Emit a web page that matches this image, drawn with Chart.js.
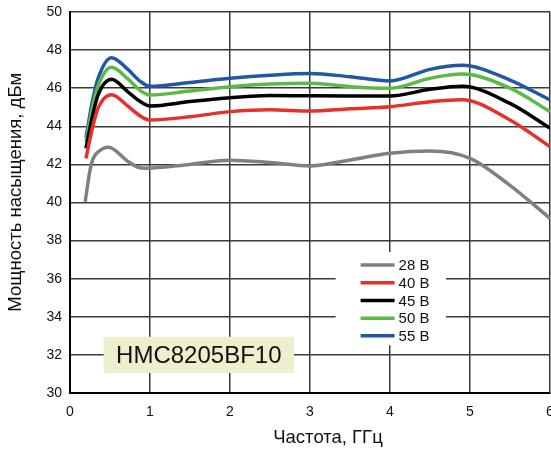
<!DOCTYPE html>
<html>
<head>
<meta charset="utf-8">
<script src="https://cdn.jsdelivr.net/npm/chart.js@4"></script>
<style>
  html, body { margin: 0; padding: 0; background: #fff; }
</style>
</head>
<body>
<canvas id="psatChart" width="551" height="449"></canvas>
<script>
// частоты, ГГц (общие для 40..55 В)
const freqs = [0.2, 0.27, 0.35, 0.52, 0.72, 0.88, 1.0, 1.5, 2.0, 2.5, 3.0, 3.5, 4.0, 4.5, 4.9, 5.5, 6.0];
const p40 = [42.32, 43.72, 44.94, 45.66, 45.07, 44.54, 44.33, 44.5, 44.77, 44.87, 44.8, 44.92, 45.03, 45.29, 45.4, 44.33, 42.93];
const p45 = [42.84, 44.33, 45.64, 46.47, 45.82, 45.3, 45.07, 45.3, 45.5, 45.62, 45.6, 45.59, 45.59, 45.94, 46.1, 45.2, 43.9];
const p50 = [43.2, 44.8, 46.1, 47.1, 46.5, 45.87, 45.64, 45.85, 46.08, 46.22, 46.26, 46.08, 46.0, 46.52, 46.74, 46.0, 44.77];
const p55 = [43.4, 45.1, 46.5, 47.6, 47.0, 46.35, 46.1, 46.3, 46.52, 46.68, 46.77, 46.6, 46.38, 46.99, 47.2, 46.43, 45.38];

// 28 В снята на своей сетке частот
const freqs28 = [0.19, 0.25, 0.29, 0.35, 0.48, 0.73, 0.85, 0.95, 1.5, 2.0, 2.5, 3.0, 3.5, 4.0, 4.5, 5.0, 5.5, 6.0];
const p28 = [40.04, 41.7, 42.32, 42.65, 42.9, 42.14, 41.85, 41.8, 42.0, 42.22, 42.1, 41.92, 42.23, 42.58, 42.7, 42.32, 40.9, 39.17];

const seriesLabels = ["28 В", "40 В", "45 В", "50 В", "55 В"];
const seriesColors = ["#808080", "#e8302a", "#000000", "#5cb946", "#2257a6"];
const xTicks = [0, 1, 2, 3, 4, 5, 6];
const yTicks = [30, 32, 34, 36, 38, 40, 42, 44, 46, 48, 50];

const FONT = "'Liberation Sans', Arial, Helvetica, sans-serif";

const toPoints = (xs, ys) => xs.map((f, i) => ({ x: f, y: ys[i] }));
const allSeries = [
  toPoints(freqs28, p28),
  toPoints(freqs, p40),
  toPoints(freqs, p45),
  toPoints(freqs, p50),
  toPoints(freqs, p55),
];

// легенда внутри поля графика, с белой подложкой
const insideLegend = {
  id: "insideLegend",
  afterDatasetsDraw(chart) {
    const { ctx, scales: { x, y } } = chart;
    const left = x.getPixelForValue(3.32);
    const right = x.getPixelForValue(4.7);
    const top = y.getPixelForValue(37.4);
    const bottom = y.getPixelForValue(32.5);
    ctx.save();
    ctx.fillStyle = "#fff";
    ctx.fillRect(left, top, right - left, bottom - top);
    ctx.font = "15px " + FONT;
    ctx.textBaseline = "middle";
    chart.data.datasets.forEach((ds, i) => {
      const rowY = top + 13 + i * 17.7;
      ctx.strokeStyle = ds.borderColor;
      ctx.lineWidth = 3.5;
      ctx.beginPath();
      ctx.moveTo(left + 25, rowY);
      ctx.lineTo(left + 59, rowY);
      ctx.stroke();
      ctx.fillStyle = "#111";
      ctx.fillText(ds.label, left + 63, rowY + 1);
    });
    ctx.restore();
  },
};

// плашка с названием прибора
const partLabel = {
  id: "partLabel",
  afterDatasetsDraw(chart) {
    const { ctx, scales: { x, y } } = chart;
    const left = x.getPixelForValue(0.42);
    const right = x.getPixelForValue(2.8);
    const top = y.getPixelForValue(32.95);
    const bottom = y.getPixelForValue(31.05);
    ctx.save();
    ctx.fillStyle = "#efefce";
    ctx.fillRect(left, top, right - left, bottom - top);
    ctx.fillStyle = "#111";
    ctx.font = "24px " + FONT;
    ctx.textAlign = "center";
    ctx.textBaseline = "middle";
    ctx.fillText("HMC8205BF10", (left + right) / 2, (top + bottom) / 2 + 1);
    ctx.restore();
  },
};

new Chart(document.getElementById("psatChart"), {
  type: "line",
  data: {
    datasets: allSeries.map((pts, i) => ({
      label: seriesLabels[i],
      data: pts,
      borderColor: seriesColors[i],
      backgroundColor: seriesColors[i],
      borderWidth: 3.5,
      pointRadius: 0,
      fill: false,
      cubicInterpolationMode: "monotone",
    })),
  },
  options: {
    responsive: false,
    animation: false,
    layout: { padding: { top: 12, right: 1, left: 0, bottom: 0 } },
    plugins: { legend: { display: false }, tooltip: { enabled: false } },
    scales: {
      x: {
        type: "linear",
        min: xTicks[0],
        max: xTicks[xTicks.length - 1],
        afterBuildTicks: (s) => { s.ticks = xTicks.map((v) => ({ value: v })); },
        ticks: { color: "#111", font: { family: FONT, size: 14 }, padding: 11, maxRotation: 0 },
        grid: { color: "#3a3a3a", lineWidth: 1.5, drawTicks: false },
        border: { color: "#000", width: 2 },
        title: {
          display: true,
          // ведущие пробелы сдвигают подпись вправо, как в оригинале
          text: "       Частота, ГГц",
          color: "#111",
          font: { family: FONT, size: 18.5 },
          padding: { top: 2, bottom: 0 },
        },
        afterFit: (s) => { s.height = 56; s.paddingLeft = 0; s.paddingRight = 0; },
      },
      y: {
        min: yTicks[0],
        max: yTicks[yTicks.length - 1],
        afterBuildTicks: (s) => { s.ticks = yTicks.map((v) => ({ value: v })); },
        ticks: { color: "#111", font: { family: FONT, size: 14 }, padding: 8 },
        grid: { color: "#3a3a3a", lineWidth: 1.5, drawTicks: false },
        border: { color: "#000", width: 2 },
        title: {
          display: true,
          text: "    Мощность насыщения, дБм",
          color: "#111",
          font: { family: FONT, size: 18.5 },
          padding: { top: 5, bottom: 2 },
        },
        afterFit: (s) => { s.width = 70; s.paddingTop = 0; s.paddingBottom = 0; },
      },
    },
  },
  plugins: [insideLegend, partLabel],
});
</script>
</body>
</html>
